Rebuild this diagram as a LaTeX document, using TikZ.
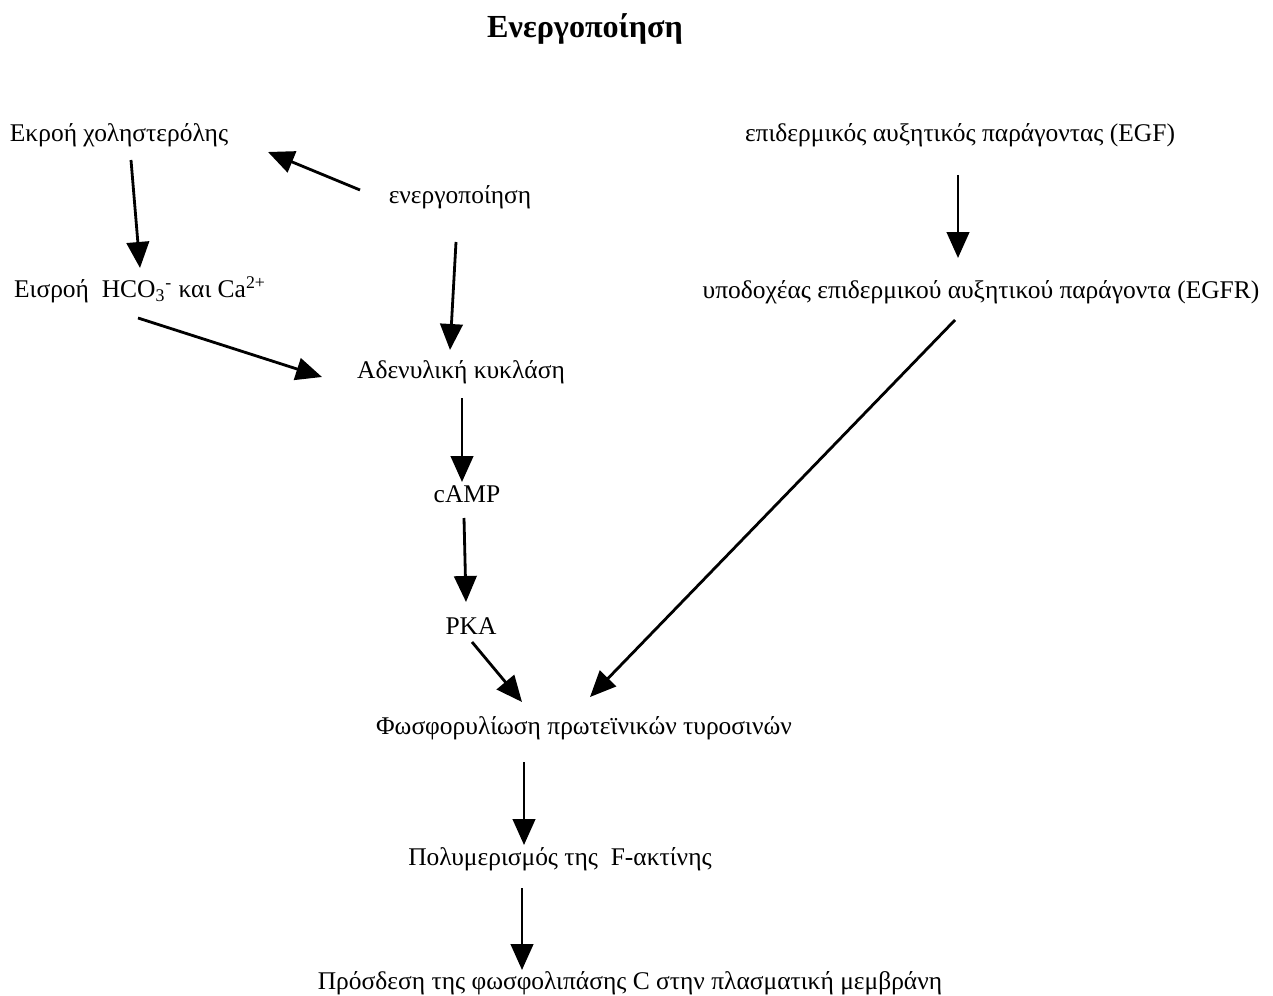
\documentclass[tikz,border=0pt]{standalone}
\usepackage{fontspec}
\setmainfont{Liberation Serif}
\usetikzlibrary{arrows.meta,calc}

\begin{document}
\begin{tikzpicture}[x=0.02cm,y=-0.02cm,
    lbl/.style={anchor=base,inner sep=0pt,font=\fontsize{14.5}{17}\selectfont},
    ttl/.style={anchor=base,inner sep=0pt,font=\fontsize{18.3}{22}\selectfont\bfseries},
    arr/.style={line width=1.6pt,-{Triangle[length=0.52cm,width=0.45cm]}}]
  \useasboundingbox (0,0) rectangle (1273,996);
  \node[ttl] (title) at (585,38) {Ενεργοποίηση};
  % left branch
  \node[lbl] (ekroi) at (119,142) {Εκροή χοληστερόλης};
  \node[lbl] (energ) at (460,204) {ενεργοποίηση};
  \node[lbl] (eisroi) at (140,298) {Εισροή\ \ HCO\textsubscript{3}\textsuperscript{-} και Ca\textsuperscript{2+}};
  \node[lbl] (adenyl) at (461,378) {Αδενυλική κυκλάση};
  \node[lbl] (camp) at (467,502) {cAMP};
  \node[lbl] (pka) at (471,634) {PKA};
  % right branch
  \node[lbl] (egf) at (960,142) {επιδερμικός αυξητικός παράγοντας (EGF)};
  \node[lbl] (egfr) at (981,299) {υποδοχέας επιδερμικού αυξητικού παράγοντα (EGFR)};
  % bottom
  \node[lbl] (phosph) at (584,734) {Φωσφορυλίωση πρωτεϊνικών τυροσινών};
  \node[lbl] (polym) at (560,865) {Πολυμερισμός της\ \ F-ακτίνης};
  \node[lbl] (prosd) at (630,989) {Πρόσδεση της φωσφολιπάσης C στην πλασματική μεμβράνη};

  \draw[arr] ($(ekroi.base)+(12,18)$) -- ($(eisroi.base)+(0,-30)$);
  \draw[arr] ($(energ.base)+(-100,-14)$) -- ($(ekroi.base)+(149,10)$);
  \draw[arr] ($(energ.base)+(-4,38)$) -- ($(adenyl.base)+(-11,-28)$);
  \draw[arr] ($(eisroi.base)+(-2,20)$) -- ($(adenyl.base)+(-139,-1)$);
  \draw[arr] ($(adenyl.base)+(1,20)$) -- ($(camp.base)+(-5,-20)$);
  \draw[arr] ($(camp.base)+(-3,16)$) -- ($(pka.base)+(-5,-32)$);
  \draw[arr] ($(pka.base)+(1,8)$) -- ($(phosph.base)+(-62,-32)$);
  \draw[arr] ($(egf.base)+(-2,33)$) -- ($(egfr.base)+(-23,-41)$);
  \draw[arr] ($(egfr.base)+(-26,21)$) -- ($(phosph.base)+(6,-37)$);
  \draw[arr] ($(phosph.base)+(-60,28)$) -- ($(polym.base)+(-36,-20)$);
  \draw[arr] ($(polym.base)+(-38,23)$) -- ($(prosd.base)+(-108,-19)$);
\end{tikzpicture}
\end{document}
